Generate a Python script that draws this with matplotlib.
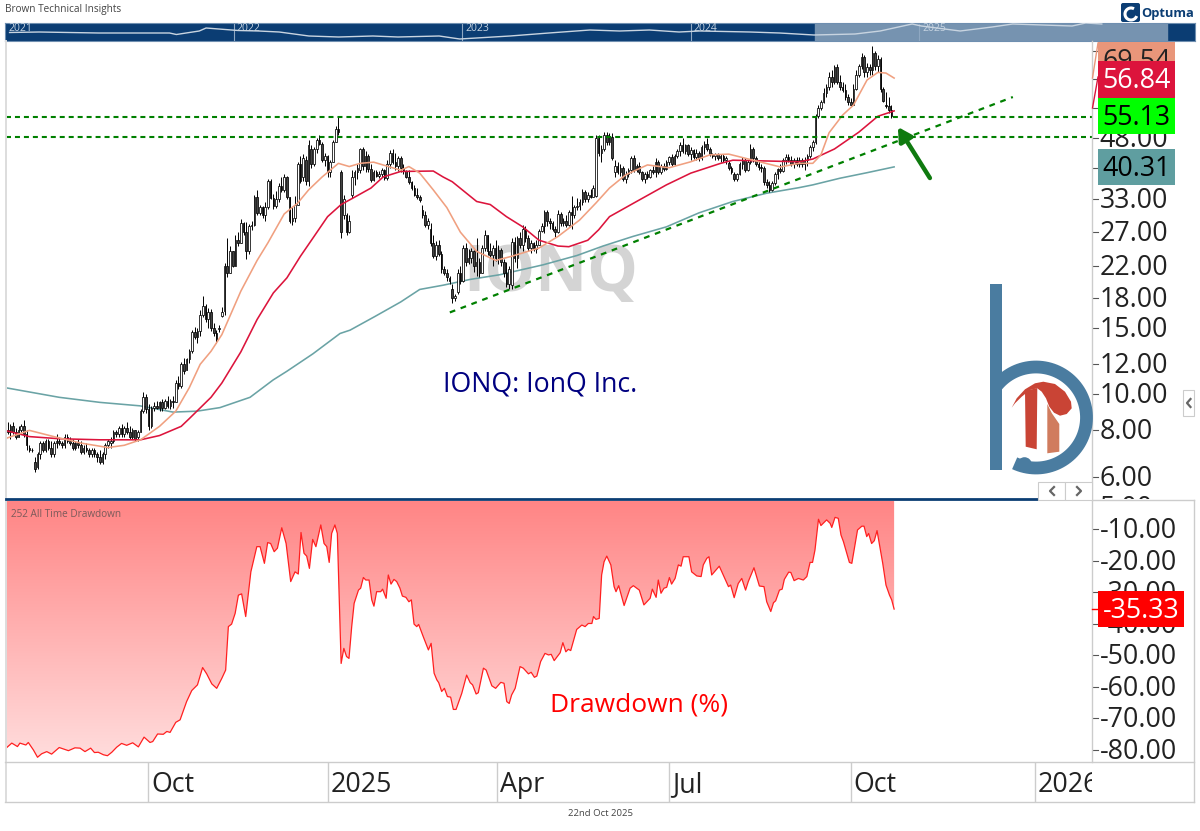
import numpy as np
import matplotlib
matplotlib.use("Agg")
import matplotlib.pyplot as plt
from matplotlib.colors import LinearSegmentedColormap
from matplotlib.patches import Polygon, Rectangle, FancyBboxPatch, Circle, Arc
from matplotlib.ticker import NullLocator
from matplotlib.transforms import ScaledTranslation

plt.rcParams['font.family'] = ['Open Sans', 'DejaVu Sans']

W, H = 1200, 831

# daily candles, one row = 10 bars
opens = [
    7.8, 8.0, 7.9, 8.2, 7.9, 7.7, 8.0, 8.2, 7.8, 7.2,
    7.1, 6.6, 6.4, 6.9, 7.4, 7.1, 7.5, 7.2, 6.9, 7.4,
    7.5, 7.4, 7.3, 7.7, 7.5, 7.4, 7.2, 7.4, 7.3, 7.0,
    7.2, 7.1, 6.9, 7.1, 6.9, 6.8, 6.6, 6.9, 7.3, 7.4,
    7.5, 7.9, 7.8, 8.1, 7.8, 8.1, 7.9, 7.7, 8.0, 7.7,
    7.9, 9.0, 9.8, 9.1, 8.2, 9.2, 9.3, 9.2, 9.5, 9.2,
    9.6, 9.3, 9.6, 9.5, 10.7, 10.5, 12.0, 11.6, 12.4, 13.0,
    14.6, 14.2, 14.7, 16.2, 17.2, 15.8, 16.5, 15.0, 14.5, 14.9,
    16.1, 16.6, 22.0, 21.0, 24.0, 22.0, 25.8, 25.2, 28.5, 27.0,
    24.0, 28.0, 28.3, 33.5, 30.4, 31.5, 30.0, 31.5, 37.0, 33.4,
    31.7, 33.0, 35.8, 35.0, 38.0, 33.5, 29.0, 29.5, 32.0, 41.0,
    38.0, 42.0, 37.0, 45.0, 41.0, 45.0, 47.5, 46.5, 42.0, 43.0,
    39.0, 41.5, 47.0, 51.0, 39.0, 30.0, 30.0, 27.0, 34.0, 38.0,
    39.0, 39.5, 45.0, 40.5, 43.0, 39.8, 37.3, 39.0, 38.2, 38.5,
    39.6, 37.6, 41.0, 44.0, 41.5, 40.5, 42.5, 40.0, 39.2, 38.0,
    36.8, 35.5, 34.0, 33.5, 31.0, 30.0, 28.2, 27.5, 25.3, 23.3,
    25.0, 23.6, 21.5, 21.0, 20.4, 19.0, 18.0, 18.7, 21.0, 20.0,
    24.5, 22.5, 23.0, 24.0, 22.0, 22.5, 21.0, 24.5, 26.5, 24.0,
    23.5, 24.5, 23.0, 24.2, 22.5, 21.0, 19.7, 19.5, 25.5, 23.0,
    26.0, 25.0, 27.5, 26.0, 24.5, 25.2, 24.3, 25.0, 27.2, 28.0,
    30.5, 29.0, 28.5, 27.5, 27.0, 30.2, 28.5, 29.0, 28.3, 30.5,
    30.0, 31.5, 31.8, 32.5, 34.5, 33.0, 34.0, 33.6, 33.7, 48.0,
    44.0, 45.0, 49.0, 47.0, 48.5, 39.0, 40.5, 39.0, 40.0, 37.5,
    38.5, 39.5, 42.5, 39.5, 40.5, 39.0, 37.5, 38.5, 38.0, 39.5,
    39.0, 41.5, 39.0, 40.5, 39.8, 41.5, 42.8, 41.0, 43.0, 44.5,
    46.0, 44.5, 46.0, 43.5, 44.8, 42.8, 44.0, 42.5, 45.5, 46.5,
    45.0, 43.5, 43.0, 43.5, 42.5, 43.0, 42.0, 41.2, 40.0, 38.5,
    37.5, 38.6, 41.0, 42.0, 39.5, 41.5, 45.0, 42.5, 41.0, 40.3,
    40.0, 36.8, 36.0, 35.0, 36.5, 38.5, 39.8, 39.2, 42.0, 42.8,
    42.0, 41.0, 42.0, 41.0, 42.0, 41.0, 42.0, 43.0, 45.5, 47.0,
    55.0, 58.0, 60.0, 63.5, 66.0, 70.0, 68.0, 74.5, 68.0, 66.0,
    64.8, 62.0, 60.0, 59.0, 65.0, 71.0, 75.0, 79.0, 72.0, 74.5,
    73.0, 81.0, 75.0, 78.0, 65.0, 59.0, 58.5, 57.0,
]
highs = [
    8.1, 8.4, 8.3, 8.4, 8.1, 8.2, 8.3, 8.5, 8.0, 7.3,
    7.2, 6.8, 7.0, 7.5, 7.5, 7.6, 7.6, 7.5, 7.5, 7.8,
    7.7, 7.5, 7.8, 7.8, 7.7, 7.6, 7.5, 7.6, 7.5, 7.3,
    7.4, 7.2, 7.2, 7.2, 7.0, 7.1, 7.0, 7.4, 7.6, 7.7,
    8.0, 8.0, 8.2, 8.3, 8.2, 8.4, 8.2, 8.1, 8.0, 8.0,
    9.1, 10.1, 10.0, 9.4, 9.3, 9.5, 9.6, 9.6, 9.7, 9.7,
    9.9, 9.7, 9.9, 10.9, 11.2, 12.2, 12.5, 12.5, 13.2, 14.8,
    15.1, 15.0, 16.7, 18.2, 17.4, 17.0, 16.8, 15.5, 14.8, 15.3,
    17.1, 22.4, 26.0, 24.8, 24.0, 26.5, 27.0, 29.2, 28.8, 28.8,
    28.4, 29.0, 34.0, 35.0, 32.0, 31.8, 32.5, 37.5, 37.5, 34.2,
    34.8, 36.5, 38.0, 38.6, 38.2, 33.6, 31.5, 33.8, 41.5, 43.0,
    43.7, 43.0, 47.5, 46.0, 45.5, 48.0, 49.0, 47.0, 44.0, 43.4,
    42.0, 47.5, 51.8, 55.0, 39.5, 34.0, 30.4, 30.0, 39.5, 39.5,
    41.0, 45.4, 45.5, 44.5, 43.5, 41.0, 39.5, 39.5, 39.2, 40.0,
    39.8, 42.0, 44.7, 45.0, 44.0, 43.0, 43.2, 41.0, 39.5, 39.5,
    37.0, 36.0, 35.5, 34.0, 32.0, 30.8, 29.5, 28.5, 26.5, 25.6,
    25.8, 24.0, 22.0, 21.5, 20.6, 19.7, 18.5, 21.5, 22.0, 25.0,
    25.2, 24.3, 24.5, 24.2, 26.0, 23.0, 25.0, 27.3, 26.5, 25.3,
    25.0, 25.7, 25.0, 24.5, 22.9, 22.5, 22.0, 26.0, 26.2, 26.3,
    27.0, 28.3, 28.0, 26.5, 25.7, 25.5, 25.7, 27.5, 28.5, 31.0,
    31.0, 29.5, 29.0, 28.0, 31.0, 30.5, 29.5, 30.0, 31.0, 33.8,
    32.0, 33.3, 33.0, 35.3, 35.0, 34.5, 35.2, 36.0, 49.0, 49.0,
    46.0, 50.0, 50.0, 49.5, 49.5, 42.0, 41.5, 41.0, 40.5, 39.2,
    40.0, 43.0, 43.4, 41.0, 41.5, 39.2, 39.0, 39.2, 39.8, 40.5,
    42.5, 42.0, 41.0, 41.2, 42.0, 43.2, 43.5, 43.5, 45.0, 47.0,
    48.0, 46.5, 46.3, 45.5, 45.0, 45.0, 44.5, 46.0, 47.2, 48.0,
    45.5, 44.0, 44.0, 43.8, 43.5, 43.5, 43.0, 41.7, 40.5, 39.0,
    38.9, 41.5, 42.8, 42.5, 42.0, 46.5, 45.5, 43.0, 42.0, 41.0,
    40.5, 37.5, 37.0, 37.0, 39.0, 40.0, 41.0, 42.5, 43.5, 43.5,
    43.0, 42.6, 42.8, 42.8, 42.5, 42.8, 43.5, 46.0, 47.5, 55.8,
    59.0, 60.8, 65.5, 67.0, 72.0, 73.0, 75.5, 76.0, 71.0, 68.0,
    67.0, 63.0, 61.5, 67.0, 73.0, 76.0, 81.0, 80.0, 76.5, 76.0,
    84.6, 82.0, 80.0, 79.0, 66.0, 64.0, 62.0, 59.0,
]
lows = [
    7.7, 7.8, 7.6, 7.8, 7.6, 7.7, 7.9, 7.7, 7.1, 7.0,
    7.0, 6.2, 6.3, 6.7, 7.0, 7.0, 7.1, 6.8, 6.8, 7.2,
    7.3, 7.2, 7.2, 7.4, 7.3, 7.1, 7.1, 7.2, 6.9, 6.9,
    7.0, 6.8, 6.8, 6.8, 6.6, 6.5, 6.5, 6.7, 7.2, 7.2,
    7.4, 7.7, 7.7, 7.7, 7.7, 7.8, 7.6, 7.6, 7.5, 7.5,
    7.9, 8.9, 8.9, 8.0, 8.1, 9.0, 9.1, 9.0, 9.0, 9.1,
    9.2, 9.1, 9.2, 9.5, 10.3, 10.4, 11.3, 11.6, 12.1, 12.9,
    14.0, 13.7, 14.3, 16.0, 15.6, 15.0, 14.7, 14.3, 13.7, 14.6,
    16.0, 16.2, 20.5, 21.0, 21.8, 22.0, 24.8, 25.2, 26.5, 22.9,
    23.6, 27.3, 28.0, 30.0, 30.0, 29.5, 28.9, 31.2, 33.0, 31.2,
    31.3, 32.5, 34.5, 34.6, 33.0, 28.6, 28.2, 28.8, 32.0, 36.5,
    37.0, 36.0, 35.9, 40.0, 40.5, 44.0, 46.0, 41.5, 40.5, 38.0,
    37.9, 41.5, 47.0, 49.0, 26.0, 29.2, 26.5, 26.8, 33.4, 36.0,
    37.5, 38.8, 39.5, 39.0, 39.0, 36.8, 37.0, 37.8, 37.7, 37.8,
    37.1, 37.3, 40.0, 41.0, 39.6, 39.2, 39.0, 38.6, 37.6, 36.2,
    35.0, 33.8, 33.0, 32.5, 29.5, 27.8, 27.5, 24.8, 23.0, 22.8,
    23.3, 21.0, 20.8, 20.0, 19.7, 17.5, 17.7, 18.5, 19.7, 19.9,
    22.0, 22.2, 22.3, 21.2, 20.6, 20.5, 21.0, 24.0, 23.5, 23.0,
    22.0, 22.6, 22.2, 22.0, 20.5, 19.3, 19.0, 19.0, 22.5, 21.7,
    24.5, 24.0, 25.5, 24.0, 23.8, 24.0, 23.8, 24.9, 27.0, 26.8,
    28.0, 27.6, 27.2, 26.2, 26.8, 28.0, 28.0, 27.8, 28.0, 27.5,
    29.5, 31.0, 31.0, 32.0, 32.5, 32.5, 33.3, 33.5, 33.5, 43.0,
    41.5, 44.5, 46.0, 46.0, 42.0, 38.0, 38.6, 38.2, 37.0, 36.6,
    38.0, 38.8, 39.0, 39.0, 38.5, 37.0, 36.6, 37.5, 37.7, 38.5,
    38.0, 38.6, 38.7, 39.4, 39.5, 40.8, 40.5, 40.8, 42.5, 43.0,
    44.0, 43.5, 43.0, 42.0, 42.2, 42.0, 41.8, 42.0, 43.7, 44.5,
    43.0, 42.5, 42.0, 42.0, 41.5, 41.5, 41.0, 39.5, 38.5, 37.0,
    37.0, 38.3, 39.8, 39.0, 39.2, 41.0, 41.5, 40.5, 39.5, 39.0,
    36.0, 35.5, 34.5, 34.8, 36.0, 37.5, 38.8, 39.0, 41.0, 41.5,
    40.5, 40.0, 40.5, 40.3, 40.2, 39.6, 40.5, 42.5, 44.5, 46.5,
    54.5, 57.0, 59.5, 62.0, 64.5, 66.0, 67.0, 67.0, 64.5, 64.0,
    60.8, 59.0, 58.5, 58.8, 64.5, 70.0, 73.5, 70.0, 70.0, 71.0,
    71.0, 73.0, 72.0, 64.0, 60.0, 58.0, 56.0, 54.5,
]
closes = [
    8.0, 7.9, 8.2, 7.9, 7.7, 8.0, 8.2, 7.8, 7.3, 7.1,
    7.1, 6.3, 6.9, 7.4, 7.1, 7.5, 7.2, 6.9, 7.4, 7.5,
    7.4, 7.3, 7.7, 7.5, 7.4, 7.2, 7.4, 7.3, 7.0, 7.2,
    7.1, 6.9, 7.1, 6.9, 6.8, 6.6, 6.9, 7.3, 7.5, 7.5,
    7.9, 7.8, 8.1, 7.8, 8.1, 7.9, 7.7, 8.0, 7.6, 7.9,
    9.0, 9.8, 9.1, 8.2, 9.2, 9.3, 9.2, 9.5, 9.2, 9.6,
    9.3, 9.6, 9.5, 10.7, 10.5, 12.0, 11.5, 12.4, 13.0, 14.6,
    14.2, 14.7, 16.2, 17.2, 15.8, 16.5, 15.0, 14.5, 14.0, 15.0,
    16.5, 22.0, 21.0, 24.0, 22.0, 25.8, 25.2, 28.5, 27.0, 24.0,
    28.0, 28.3, 33.5, 30.4, 31.5, 30.0, 31.5, 37.0, 33.4, 31.7,
    33.0, 35.8, 35.0, 38.0, 33.5, 29.0, 29.5, 32.0, 41.0, 37.0,
    42.5, 37.0, 46.0, 41.0, 45.0, 47.5, 46.5, 42.0, 43.0, 39.0,
    41.5, 47.0, 51.0, 50.0, 27.0, 33.0, 27.0, 29.0, 38.0, 39.0,
    40.0, 45.0, 40.5, 43.0, 39.8, 37.3, 39.0, 38.2, 38.5, 39.6,
    37.6, 41.0, 44.0, 41.5, 40.5, 42.5, 40.0, 39.2, 38.0, 36.8,
    35.5, 34.0, 33.5, 32.8, 30.0, 28.2, 29.0, 25.3, 23.3, 25.0,
    23.6, 21.5, 21.0, 20.5, 20.0, 18.0, 18.2, 21.0, 20.0, 24.5,
    22.5, 23.0, 24.0, 22.0, 22.5, 21.0, 24.5, 26.5, 24.0, 23.5,
    24.5, 23.0, 24.2, 22.5, 21.0, 19.7, 21.5, 25.5, 23.0, 26.0,
    25.0, 27.5, 26.0, 24.5, 25.2, 24.3, 25.0, 27.2, 28.0, 30.5,
    29.0, 28.5, 27.5, 27.0, 30.2, 28.5, 29.0, 28.3, 30.5, 30.0,
    31.5, 31.8, 32.5, 34.5, 33.0, 34.0, 33.6, 35.5, 48.0, 44.0,
    45.0, 49.0, 47.0, 48.5, 42.5, 40.5, 39.0, 40.0, 37.5, 38.5,
    39.5, 42.5, 39.5, 40.5, 39.0, 37.5, 38.5, 38.0, 39.5, 39.0,
    41.5, 39.0, 40.5, 39.8, 41.5, 42.8, 41.0, 43.0, 44.5, 46.0,
    44.5, 46.0, 43.5, 44.8, 42.8, 44.0, 42.5, 45.5, 46.5, 45.0,
    43.5, 43.0, 43.5, 42.5, 43.0, 42.0, 42.5, 40.0, 39.0, 37.5,
    38.6, 41.0, 42.0, 39.5, 41.5, 45.0, 42.5, 41.0, 40.3, 40.0,
    36.8, 36.0, 35.0, 36.5, 38.5, 39.8, 39.2, 42.0, 42.8, 42.0,
    41.0, 42.0, 41.0, 42.0, 41.0, 42.0, 43.0, 45.5, 47.0, 55.0,
    58.0, 60.0, 63.5, 66.0, 70.0, 68.0, 74.5, 68.0, 66.0, 64.8,
    62.0, 60.0, 59.0, 65.0, 71.0, 75.0, 79.0, 72.0, 74.5, 73.0,
    81.0, 75.0, 78.0, 65.0, 60.5, 58.5, 57.0, 55.13,
]

# moving averages (bar number, price)
fast_bars = [0, 9, 18, 28, 38, 44, 50, 57, 63, 68, 72, 76, 80, 87, 93, 97, 103, 108, 112, 117, 123, 127, 131, 136,
             146, 149, 153, 158, 163, 168, 174, 181, 187, 197, 204, 212, 218, 223, 229, 237, 245, 253, 260, 267,
             276, 286, 293, 298, 301, 304, 309, 313, 318, 322, 325, 328]
fast_ma = [7.6, 8.0, 7.7, 7.4, 7.2, 7.3, 7.55, 8.2, 9.0, 10.4, 12.0, 13.0, 14.4, 18.8, 22.7, 25.3, 30.2, 32.3, 35.0,
           37.9, 41.2, 40.4, 41.2, 41.5, 39.5, 40.4, 38.8, 35.0, 31.4, 27.0, 24.0, 22.7, 23.3, 24.5, 26.3, 29.1,
           32.3, 35.4, 38.4, 40.8, 40.1, 41.6, 43.4, 43.6, 42.0, 40.3, 41.2, 41.2, 43.4, 49.7, 55.4, 58.9, 68.7,
           72.0, 71.7, 69.54]
mid_bars = [0, 9, 20, 35, 50, 57, 65, 68, 76, 80, 87, 93, 99, 104, 109, 114, 119, 124, 128.4, 135, 139.5, 146, 158,
            161.6, 165, 174, 179, 185, 191, 197, 204, 208, 215, 219, 223, 232, 244, 253, 264, 268.5, 281, 293, 298,
            306, 315, 322, 328]
mid_ma = [8.0, 7.7, 7.6, 7.55, 7.55, 7.75, 8.2, 8.6, 9.8, 10.7, 12.95, 15.8, 18.6, 20.4, 23.3, 26.3, 29.7, 32.0,
          33.3, 35.4, 37.9, 39.2, 39.3, 37.9, 36.8, 32.6, 32.0, 29.7, 27.9, 25.7, 24.8, 24.7, 25.7, 27.4, 29.7,
          32.3, 36.1, 38.8, 41.2, 42.0, 41.8, 41.6, 42.3, 45.0, 49.9, 55.0, 56.84]
slow_bars = [0, 20, 35, 49.8, 62, 70.8, 79.3, 90.4, 98.9, 104, 113.6, 123.6, 127.3, 136.5, 146, 153, 161.6, 171.5,
             182.6, 198.5, 211, 220.6, 231.6, 244, 256, 268.5, 281, 293, 298, 308, 318, 328]
slow_ma = [10.4, 9.8, 9.5, 9.3, 8.95, 9.0, 9.2, 9.8, 10.9, 11.5, 12.8, 14.5, 14.8, 16.1, 17.6, 19.0, 19.5, 20.2,
           20.8, 22.1, 23.4, 24.8, 26.3, 27.9, 30.4, 32.6, 34.3, 35.5, 36.1, 37.6, 38.9, 40.31]

# 252 all time drawdown, %
dd_bars = [0.4, 2.5, 4.6, 5.5, 7.7, 8.6, 10.5, 12, 13.5, 15.4, 17.2, 20, 23.4, 25.8, 27.7, 29.5, 31.6, 33, 34.4, 36.3,
           37.8, 39.4, 41.2, 43, 44.9, 47.1, 49.2, 51.3, 53.5, 54.5, 56.3, 58.4, 59.7, 60.9, 63, 64.6, 67, 68.9, 71,
           72.9, 74.4, 76.3, 78.1, 80, 81.4, 82.4, 83.6, 84.9, 86.1, 87.3, 88.8, 90.7, 92.9, 94.1, 95.7, 96.9, 98,
           99.3, 100.5, 102.1, 103.7, 105.4, 107, 108.2, 109.2, 110.3, 111.3, 112.3, 113.5, 114.7, 116.5, 117.7,
           118.7, 119.6, 120.5, 121.7, 122.6, 124, 125, 126, 126.9, 127.9, 128.8, 130.4, 131.2, 132.2, 133.1, 134.3,
           135.3, 136.1, 137.1, 138.6, 139.3, 140.6, 141.4, 142.4, 143.5, 144.5, 145.7, 146.6, 147.9, 149, 149.9,
           150.9, 151.9, 152.6, 154.3, 156.2, 157.2, 158.3, 159.3, 160, 161.1, 162.1, 163.2, 164.4, 165.4, 166.4,
           168.5, 170.3, 171.6, 172.5, 173.8, 174.6, 176.5, 177.5, 179.6, 181, 182.9, 184.1, 185.1, 186, 186.9,
           188.2, 190, 191.2, 193.1, 194.1, 195.3, 196.2, 197.6, 199.2, 200.5, 201.5, 202.6, 204.8, 205.8, 206.9,
           207.8, 208.7, 210.9, 212.8, 214, 215.2, 216.5, 217.1, 218, 219.2, 220.1, 221, 222, 223.5, 224.7, 225.4,
           226.4, 228.4, 230.6, 231.8, 234, 235.7, 238, 238.8, 240.2, 241, 242, 243.1, 244.1, 245.1, 245.9, 247.2,
           248.4, 249.4, 250.2, 252.3, 253.3, 255.2, 256.8, 257.6, 258.9, 259.7, 260.7, 263.5, 266.9, 267.7, 269,
           270.5, 271.8, 273.2, 274.2, 276.3, 278.3, 280, 281, 282.5, 283.5, 284.3, 285.7, 286.7, 287.5, 289.1,
           289.9, 291.1, 292.7, 294.5, 295.8, 297, 297.9, 298.8, 300.1, 301, 303.1, 304.4, 305, 306.2, 307.4, 308.4,
           309.3, 311.5, 312.4, 314.5, 316.1, 316.9, 317.9, 318.6, 319.7, 320.7, 321.7, 323.8, 325, 326.3, 327.1, 328]
dd_vals = [-79.5, -77.9, -79, -77.9, -78.5, -77.7, -80.1, -82.4, -81.3, -80.6, -81.4, -79.3, -80.3, -79.4, -79.5, -80.6,
           -79.5, -80.9, -80.8, -81.6, -81.9, -80.8, -79.2, -78, -78.6, -77.8, -79.1, -76, -77.7, -77.4, -75, -75.1,
           -74.2, -74.5, -71.3, -70.5, -64.7, -61.2, -59.4, -53.9, -55.9, -59.1, -60.5, -57.3, -54.7, -40.9, -40.1,
           -36.7, -30.9, -30.5, -37.7, -23.5, -15.5, -15.5, -20.8, -14.2, -14.5, -17.1, -16, -9.5, -14.5, -26.6,
           -23.5, -24.2, -11, -17.6, -18.5, -22.4, -13.2, -15.5, -8.6, -14.5, -15.5, -20.5, -11.3, -8.6, -11.3, -52.6,
           -47.8, -50.4, -51, -40.9, -33.5, -29.3, -28.7, -25.3, -26.1, -26.1, -32.4, -34.4, -29.8, -29.8, -29, -31.9,
           -24.5, -27.4, -25.9, -26.6, -28.7, -31.2, -31.6, -33, -32.4, -40.1, -40.9, -40.2, -44.1, -48.3, -46.2,
           -55.7, -57.8, -58.7, -61.5, -60.5, -63.1, -63.3, -67.2, -67.2, -62.1, -56.3, -58.7, -59.4, -62.3, -61.9,
           -54.1, -54.7, -59.7, -60.5, -58.6, -58.9, -64.7, -65.3, -62.6, -60.5, -53.6, -54.1, -55.9, -55.4, -57,
           -56.6, -52, -49.4, -49.9, -49.7, -51.7, -49.2, -46, -48.9, -48.1, -48.5, -41.8, -40.4, -40.9, -39.9, -39.9,
           -37.7, -38.6, -38.3, -24.5, -20.3, -18.5, -21.3, -28.2, -29.8, -27.9, -34.2, -28.7, -27.9, -29.3, -34,
           -31.9, -29, -31.6, -26.1, -30.3, -28.7, -28.4, -25.3, -27.4, -25.6, -21.3, -21.7, -18.7, -18.7, -23.5,
           -24.8, -25, -21.3, -19.2, -18.7, -24.5, -21.7, -28.2, -27.7, -31.7, -27.2, -25.6, -29.3, -26.6, -22.2, -28,
           -28.2, -33, -36.1, -33.3, -32.7, -29.3, -29, -25.9, -23.6, -23.7, -26.3, -25.6, -26.1, -25, -20.5, -20.5,
           -16.6, -6.8, -8.8, -7, -8.1, -9.4, -6.2, -6.5, -11.8, -13.9, -20.5, -20.8, -10.2, -9, -9, -12.3, -11.3,
           -14.5, -13.6, -10.4, -20.8, -27.7, -30.9, -32.4, -35.33]

# axis labels
price_ticks = [5, 6, 8, 10, 12, 15, 18, 22, 27, 33, 40, 48, 58, 69, 82]
price_labels = [5, 6, 8, 10, 12, 15, 18, 22, 27, 33, 48]
dd_ticks = [-10, -20, -30, -40, -50, -60, -70, -80]
month_bars = [52.9, 119.1, 181.5, 245, 312, 380]
month_labels = ['Oct', '2025', 'Apr', 'Jul', 'Oct', '2026']

# levels and trendline
support_levels = [54.7, 48.3]
trend_bars = [164.1, 371.8]
trend_vals = [16.5, 61.9]
arrow_from = (341.2, 37.65)
arrow_to = (329.4, 51.5)

# navigator strip along the top
nav_years = [2021.02, 2021.15, 2021.41, 2021.72, 2021.75, 2021.85, 2021.88, 2022.02, 2022.11, 2022.2, 2022.33, 2022.46,
             2022.61, 2022.72, 2022.9, 2022.99, 2023.21, 2023.38, 2023.56, 2023.69, 2023.82, 2023.95, 2024.04, 2024.26,
             2024.39, 2024.54, 2024.72, 2024.83, 2024.97, 2025.01, 2025.18, 2025.32, 2025.41, 2025.67, 2025.73, 2025.8]
nav_vals = [8.5, 9, 8, 8, 6.5, 10, 13, 10.5, 10, 9, 5, 4, 5, 4, 5, 2, 5, 8, 11, 10, 11, 9, 10, 9, 8, 6, 7, 10, 17, 15,
            10, 14, 17, 15, 18, 17]
nav_labels = [2021, 2022, 2023, 2024, 2025]


def px_axes(left, top, right, bottom, **kw):
    return fig.add_axes([left / W, 1 - bottom / H, (right - left) / W, (bottom - top) / H], **kw)


fig = plt.figure(figsize=(W / 100, H / 100), dpi=100, facecolor='white')

XLIM = (0.37, 401)
PRICE_LIM = (5.25, 87.3)
DD_LIM = (-83.9, -1.0)
AX_COL = '#CCCCCC'
TXT_COL = '#222222'
LABEL_SIZE = 19.3
# labels sit a touch lower than matplotlib's centre
nudge = ScaledTranslation(0, -2 / 100, fig.dpi_scale_trans)

# price panel
ax = px_axes(6, 41, 1092, 499)
ax.set_xlim(*XLIM)
ax.set_yscale('log')
ax.set_ylim(*PRICE_LIM)
ax.yaxis.set_major_locator(NullLocator())
ax.yaxis.set_minor_locator(NullLocator())
ax.set_axis_off()

ax.text(201.4, 20.8, 'IONQ', color='#D4D4D4', fontsize=46, fontweight='bold', ha='center', va='center', zorder=1)

bars = np.arange(len(closes))
o, h, l, c = map(np.array, (opens, highs, lows, closes))
ax.vlines(bars, l, h, color='black', lw=0.7, zorder=4)
up = c >= o
ax.bar(bars, np.abs(c - o), bottom=np.minimum(o, c), width=0.6,
       color=np.where(up, 'white', '#444444'), edgecolor='black', linewidth=0.55, zorder=5)

ax.plot(slow_bars, slow_ma, color='#6AA3A5', lw=1.15, zorder=3)
ax.plot(mid_bars, mid_ma, color='#DC143C', lw=1.15, zorder=6)
ax.plot(fast_bars, fast_ma, color='#F0A080', lw=1.15, zorder=6)

for lvl in support_levels:
    ax.axhline(lvl, color='#008000', lw=1.5, dashes=(2.4, 1.9), zorder=7)
ax.plot(trend_bars, trend_vals, color='#008000', lw=1.6, dashes=(2.6, 2.6), zorder=7)
ax.annotate('', xy=arrow_to, xytext=arrow_from, zorder=8,
            arrowprops=dict(arrowstyle='-|>,head_width=0.45,head_length=0.8', color='#0F7A0F', lw=3.2,
                            shrinkA=0, shrinkB=0))

ax.text(197.3, 10.57, 'IONQ: IonQ Inc.', color='#000080', fontsize=19.2, va='center', ha='center', zorder=9)

# drawdown panel
ax2 = px_axes(6, 501, 1092, 762)
ax2.set_xlim(*XLIM)
ax2.set_ylim(*DD_LIM)
ax2.set_axis_off()
cmap = LinearSegmentedColormap.from_list('dd', ['#FF8585', '#FFDEDE'])
grad = ax2.imshow(np.linspace(0, 1, 256).reshape(-1, 1), extent=(*XLIM, DD_LIM[0], DD_LIM[1]), aspect='auto',
                  cmap=cmap, zorder=1, origin='upper')
verts = [(dd_bars[0], DD_LIM[1])] + list(zip(dd_bars, dd_vals)) + [(dd_bars[-1], DD_LIM[1])]
shape = Polygon(verts, closed=True, transform=ax2.transData, facecolor='none', edgecolor='none')
ax2.add_patch(shape)
grad.set_clip_path(shape)
ax2.plot(dd_bars, dd_vals, color='#FF2020', lw=0.9, zorder=3)
ax2.set_xlim(*XLIM)
ax2.set_ylim(*DD_LIM)
ax2.text(233.9, -65.9, 'Drawdown (%)', color='#FF0000', fontsize=19, ha='center', va='center', zorder=4)
ax2.text(0.005, 0.95, '252 All Time Drawdown', transform=ax2.transAxes, color='#7A5A5A', fontsize=7.2, va='center')

# right hand value scales
ax_pr = px_axes(1092, 41, 1194, 499)
ax_pr.set_yscale('log')
ax_pr.set_ylim(*PRICE_LIM)
ax_pr.set_xlim(0, 1)
ax_pr.yaxis.set_major_locator(NullLocator())
ax_pr.yaxis.set_minor_locator(NullLocator())
ax_pr.set_axis_off()
for v in price_ticks:
    ax_pr.plot([0, 0.055], [v, v], color='#555555', lw=0.8)
for v in price_labels:
    ax_pr.text(0.075, v, f'{v:.2f}', fontsize=LABEL_SIZE, color=TXT_COL, va='center', clip_on=True,
               transform=ax_pr.transData + nudge)

ax_dr = px_axes(1092, 501, 1194, 762)
ax_dr.set_ylim(*DD_LIM)
ax_dr.set_xlim(0, 1)
ax_dr.set_axis_off()
for v in dd_ticks:
    ax_dr.plot([0, 0.055], [v, v], color='#555555', lw=0.8)
    ax_dr.text(0.075, v, f'{v:.2f}', fontsize=LABEL_SIZE, color=TXT_COL, va='center', clip_on=True,
               transform=ax_dr.transData + nudge)

# date axis
ax3 = px_axes(6, 762, 1092, 802)
ax3.set_xlim(*XLIM)
ax3.set_ylim(0, 1)
ax3.set_axis_off()
for b, lab in zip(month_bars, month_labels):
    ax3.plot([b, b], [0, 1], color=AX_COL, lw=1)
    ax3.text(b + 1.0, 0.43, lab, fontsize=LABEL_SIZE, color=TXT_COL, va='center', clip_on=True)

# navigator
ax_nav = px_axes(5, 22.5, 1195, 41)
ax_nav.set_xlim(2021, 2021 + 1190 / 228.5)
ax_nav.set_ylim(0, 18.5)
ax_nav.set_facecolor('#0B3D73')
ax_nav.set_xticks([])
ax_nav.set_yticks([])
for sp in ax_nav.spines.values():
    sp.set_color('#6F8FB0')
    sp.set_linewidth(0.8)
ax_nav.axvspan(2024.545, 2026.085, color='#7693B0', zorder=1)
for yr in nav_labels:
    if yr > 2021:
        ax_nav.axvline(yr, color='#8FA8C2', lw=0.8, zorder=2)
    ax_nav.text(yr + 0.015, 12.5, str(yr), color='#C4D2E0', fontsize=7.5, va='center', zorder=3)
ax_nav.plot(nav_years, nav_vals, color='#C8D4E0', lw=1.0, zorder=4)

# overlay in pixels: frames, value tags, logos
ov = fig.add_axes([0, 0, 1, 1], zorder=20)
ov.set_xlim(0, W)
ov.set_ylim(H, 0)
ov.set_axis_off()
ov.patch.set_alpha(0)

ov.plot([5.5, 5.5], [41, 802], color='#DDDDDD', lw=1.4)
ov.plot([1092, 1092], [41, 762], color=AX_COL, lw=1)
ov.plot([5, 1194], [762, 762], color=AX_COL, lw=1)
ov.plot([5, 1194], [801.7, 801.7], color=AX_COL, lw=1)
ov.plot([1194, 1194], [500, 802], color=AX_COL, lw=1)
ov.plot([1092, 1194], [500, 500], color=AX_COL, lw=1)
ov.plot([6, 1038], [499.2, 499.2], color='#0B3D73', lw=2)

for left, right, top, bottom, text_y, face, label, tcol in [
    (1098, 1175, 42, 78, 60, '#E9967A', '69.54', '#222222'),
    (1098, 1175, 61, 97.5, 79, '#DC143C', '56.84', 'white'),
    (1098, 1175, 98, 134, 116, '#00FF00', '55.13', 'black'),
    (1098, 1175, 149, 184.5, 166.7, '#5F9EA0', '40.31', 'black'),
    (1098, 1184, 590.7, 626.7, 608.7, '#FF0000', '-35.33', 'white'),
]:
    ov.add_patch(Rectangle((left, top), right - left, bottom - top, facecolor=face, edgecolor='none', zorder=3))
    ov.text((left + right) / 2, text_y + 1.8, label, color=tcol, fontsize=LABEL_SIZE, ha='center', va='center',
            zorder=3)
ov.plot([1092.5, 1098], [78, 43], color='#E9967A', lw=1)
ov.plot([1092.5, 1098], [108, 77], color='#DC143C', lw=1)
ov.plot([1092, 1098], [608.7, 608.7], color='#FF0000', lw=1)

ov.text(5, 9.5, 'Brown Technical Insights', color='#444444', fontsize=7.2, va='center')
ov.text(601, 814, '22nd Oct 2025', color='#444444', fontsize=6.8, va='center', ha='center')

# scroll buttons
for x0, x1 in [(1038, 1065), (1065, 1092)]:
    ov.add_patch(Rectangle((x0, 482), x1 - x0, 18, facecolor='white', edgecolor=AX_COL, lw=0.8, zorder=4))
ov.plot([1054, 1050, 1054], [487, 491, 495], color='#666666', lw=1.6, zorder=5)
ov.plot([1077, 1081, 1077], [487, 491, 495], color='#666666', lw=1.6, zorder=5)
ov.add_patch(Rectangle((1183, 390), 11, 26, facecolor='white', edgecolor=AX_COL, lw=0.8, zorder=4))
ov.plot([1190.5, 1187, 1190.5], [399, 403, 407], color='#666666', lw=1.6, zorder=5)

# Optuma badge
ov.add_patch(FancyBboxPatch((1123, 5), 15, 15, boxstyle='round,pad=2', facecolor='#0B3D73', edgecolor='none'))
ov.add_patch(Arc((1131, 14), 12, 12, theta1=20, theta2=300, color='white', lw=2.2))
ov.text(1141.5, 13.5, 'Optuma', color='#0B3D73', fontsize=9.3, fontweight='bold', va='center')

# brown logo
BLUE = '#4A7CA0'
ov.add_patch(Rectangle((990, 284), 12, 186, facecolor=BLUE, edgecolor='none', zorder=2))
ring_t = np.radians(np.arange(-140, 116, 3))
ov.plot(1036 + 50.5 * np.cos(ring_t), 417.5 + 50.5 * np.sin(ring_t), color=BLUE, lw=9.2, solid_capstyle='butt',
        zorder=2)
ov.add_patch(Circle((1024.5, 464.5), 7.3, facecolor=BLUE, edgecolor='none', zorder=2))
red_arch = [(1011.7, 407.7), (1016.7, 398.3), (1025, 389.3), (1035, 383.3), (1043.3, 381.7), (1055, 384), (1065, 391.7),
            (1071, 401.7), (1071.7, 408.3), (1066.7, 414), (1060, 415.7), (1054, 412.7), (1049.3, 406.7), (1046, 398.3),
            (1041.7, 391.7), (1037.3, 388.3), (1030, 390), (1021.7, 396.7), (1015, 403.3)]
red_stem = [(1025, 391), (1025.7, 446.7), (1036.7, 449.3), (1037.3, 388)]
tan_stem = [(1047.3, 404), (1047.3, 453.3), (1059.3, 451.7), (1059.3, 424), (1051.7, 413)]
ov.add_patch(Polygon(red_arch, closed=True, facecolor='#C94435', edgecolor='none', zorder=3))
ov.add_patch(Polygon(red_stem, closed=True, facecolor='#C94435', edgecolor='none', zorder=3))
ov.add_patch(Polygon(tan_stem, closed=True, facecolor='#D07C5E', edgecolor='none', zorder=3))

fig.savefig('out.png', dpi=100, facecolor='white')
